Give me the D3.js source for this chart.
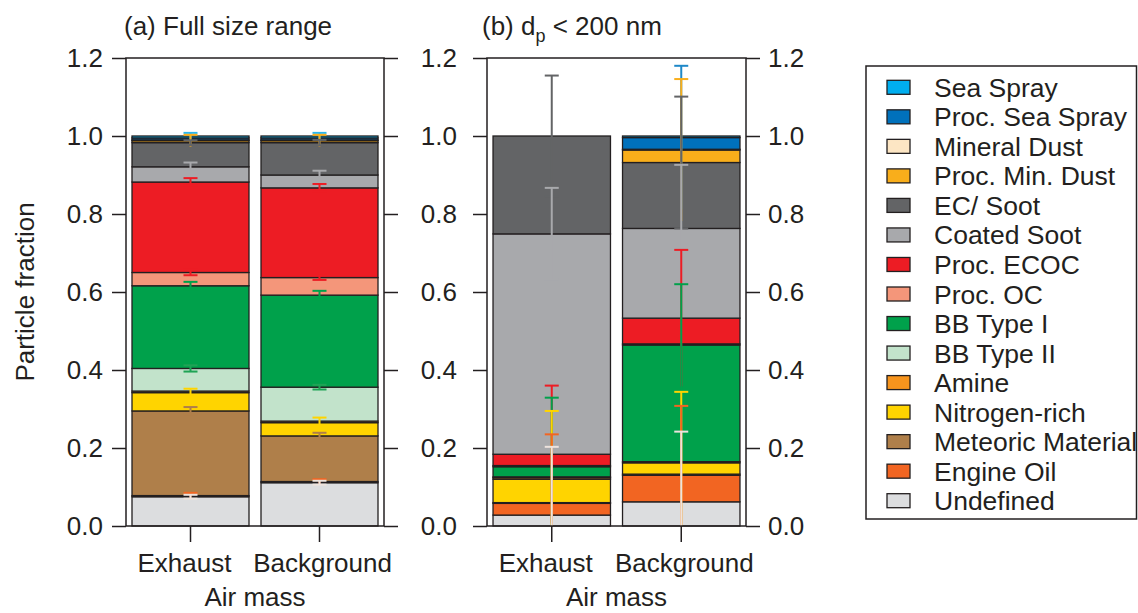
<!DOCTYPE html>
<html>
<head>
<meta charset="utf-8">
<script src="https://cdn.jsdelivr.net/npm/d3@7"></script>
<style>
  body { margin: 0; background: #fff; }
  text { font-family: "Liberation Sans", Arial, sans-serif; fill: #231f20; }
</style>
</head>
<body>
<div id="chart"></div>
<script>
const width = 1138;
const height = 613;

// stacking order, bottom to top
const species = ["Undefined", "Engine Oil", "Meteoric Material", "Nitrogen-rich", "Amine",
    "BB Type II", "BB Type I", "Proc. OC", "Proc. ECOC", "Coated Soot", "EC/ Soot",
    "Proc. Min. Dust", "Mineral Dust", "Proc. Sea Spray", "Sea Spray"];
const colors = ["#dcdddf", "#f26522", "#af7f4a", "#ffd400", "#f7941d",
    "#c2e3cb", "#00a14b", "#f4967a", "#ed1c24", "#a8a9ac", "#636466",
    "#f9ae1b", "#fde6c4", "#0071bc", "#00aeef"];
const errColors = ["#ede3dd", "#f26522", "#af7f4a", "#ffd400", "#f7941d",
    "#1fa355", "#00a14b", "#ed1c24", "#ed1c24", "#a8a9ac", "#636466",
    "#f9ae1b", "#fde6c4", "#1e88c8", "#29b6ef"];

const categories = ["Exhaust", "Background"];
const yTicks = [0, 0.2, 0.4, 0.6, 0.8, 1.0, 1.2];

// (a) full size range
const fullExhaust    = [0.075, 0.003, 0.217, 0.047, 0.004, 0.058, 0.212, 0.034, 0.232, 0.039, 0.062, 0.005, 0.002, 0.005, 0.005];
const fullBackground = [0.111, 0.003, 0.117, 0.034, 0.004, 0.087, 0.236, 0.045, 0.230, 0.033, 0.083, 0.005, 0.002, 0.005, 0.005];
const fullExhaustErr    = [0.005, 0.007, 0.010, 0.010, 0, 0.008, 0.010, 0.007, 0.010, 0.011, 0.006, 0.015, 0, 0, 0.008];
const fullBackgroundErr = [0.005, 0.006, 0.008, 0.013, 0, 0.006, 0.011, 0.006, 0.010, 0.011, 0.007, 0.015, 0, 0, 0.008];

// (b) dp < 200 nm
const fineExhaust    = [0.028, 0.030, 0.002, 0.060, 0.004, 0.002, 0.026, 0.003, 0.029, 0.565, 0.251, 0, 0, 0, 0];
const fineBackground = [0.062, 0.068, 0.003, 0.029, 0.003, 0, 0.299, 0.003, 0.066, 0.230, 0.169, 0.032, 0.002, 0.030, 0.004];
const fineExhaustErr    = [0.175, 0.177, 0, 0.175, 0, 0, 0.177, 0, 0.176, 0.118, 0.155, 0, 0, 0, 0];
const fineBackgroundErr = [0.180, 0.178, 0, 0.182, 0, 0, 0.156, 0, 0.175, 0.163, 0.169, 0.182, 0, 0.184, 0];

const panels = [
    {left: 126, right: 384, values: [fullExhaust, fullBackground], errs: [fullExhaustErr, fullBackgroundErr], rightLabels: false, labelPad: 9},
    {left: 487, right: 746, values: [fineExhaust, fineBackground], errs: [fineExhaustErr, fineBackgroundErr], rightLabels: true, labelPad: 16}
];

const plotTop = 58, plotBottom = 526;
const ink = "#231f20";
const fontSize = "26px";

const svg = d3.select("#chart").append("svg").attr("width", width).attr("height", height);

const y = d3.scaleLinear().domain([0, 1.2]).range([plotBottom, plotTop]);

panels.forEach(p => {
    const x = d3.scaleBand().domain(categories).range([p.left, p.right])
        .paddingInner(0.093).paddingOuter(0.0465);

    const rows = categories.map((c, ci) => {
        const row = {category: c};
        species.forEach((s, si) => row[s] = p.values[ci][si]);
        return row;
    });
    const series = d3.stack().keys(species)(rows);

    const g = svg.append("g");

    // bars
    series.forEach((s, si) => {
        g.selectAll(null)
            .data(s)
            .join("rect")
            .attr("x", d => x(d.data.category))
            .attr("width", x.bandwidth())
            .attr("y", d => y(d[1]))
            .attr("height", d => y(d[0]) - y(d[1]))
            .attr("fill", colors[si])
            .attr("stroke", ink)
            .attr("stroke-width", 1.3);
    });

    // error bars, top species first so lower ones lie over them
    categories.forEach((c, ci) => {
        const cx = x(c) + x.bandwidth() / 2;
        for (let si = species.length - 1; si >= 0; si--) {
            const e = p.errs[ci][si];
            if (!e) continue;
            const b = series[si][ci][0];
            const t = series[si][ci][1];
            const hi = Math.min(1.2, t + e);
            const lo = Math.max(0, t - e);
            const col = errColors[si];
            g.append("line")
                .attr("x1", cx).attr("x2", cx)
                .attr("y1", y(lo)).attr("y2", y(hi))
                .attr("stroke", col).attr("stroke-width", 2);
            g.append("line")
                .attr("x1", cx - 7).attr("x2", cx + 7)
                .attr("y1", y(hi)).attr("y2", y(hi))
                .attr("stroke", col).attr("stroke-width", 2);
            // lower cap only shows while it stays inside its own segment
            if (t - e >= b - 0.001) {
                g.append("line")
                    .attr("x1", cx - 7).attr("x2", cx + 7)
                    .attr("y1", y(lo)).attr("y2", y(lo))
                    .attr("stroke", col).attr("stroke-width", 2);
            }
        }
    });

    // frame
    g.append("rect")
        .attr("x", p.left).attr("y", plotTop)
        .attr("width", p.right - p.left).attr("height", plotBottom - plotTop)
        .attr("fill", "none").attr("stroke", ink).attr("stroke-width", 1.5);

    // axes
    const fmt = d3.format(".1f");
    const leftAxis = g.append("g")
        .attr("transform", `translate(${p.left},0)`)
        .call(d3.axisLeft(y).tickValues(yTicks).tickFormat(fmt).tickSize(14).tickSizeOuter(0).tickPadding(p.labelPad));
    const rightAxis = g.append("g")
        .attr("transform", `translate(${p.right},0)`)
        .call(d3.axisRight(y).tickValues(yTicks).tickFormat(p.rightLabels ? fmt : "").tickSize(14).tickSizeOuter(0).tickPadding(8));
    const xAxis = g.append("g")
        .attr("transform", `translate(0,${plotBottom})`)
        .call(d3.axisBottom(x).tickSize(16).tickSizeOuter(0));

    [leftAxis, rightAxis, xAxis].forEach(a => {
        a.select(".domain").remove();
        a.selectAll(".tick line").attr("stroke", ink).attr("stroke-width", 1.5);
        a.selectAll(".tick text").style("font-size", fontSize).attr("fill", ink)
            .style("font-family", "'Liberation Sans', Arial, sans-serif");
    });
    xAxis.selectAll(".tick text")
        .attr("y", 28).attr("dy", "0.71em")
        .attr("dx", d => d === "Exhaust" ? -6 : 3);

    g.append("text")
        .attr("x", (p.left + p.right) / 2)
        .attr("y", 606)
        .attr("text-anchor", "middle")
        .style("font-size", fontSize)
        .text("Air mass");
});

// panel titles
svg.append("text").attr("x", 124).attr("y", 35).style("font-size", fontSize).text("(a) Full size range");
const tb = svg.append("text").attr("x", 482).attr("y", 35).style("font-size", fontSize);
tb.append("tspan").text("(b) d");
tb.append("tspan").attr("dy", 7).style("font-size", "18px").text("p");
tb.append("tspan").attr("dy", -7).text(" < 200 nm");

// y title
svg.append("text")
    .attr("transform", "translate(34,292) rotate(-90)")
    .attr("text-anchor", "middle")
    .style("font-size", fontSize)
    .text("Particle fraction");

// legend
const legendOrder = species.slice().reverse();
const legendColors = colors.slice().reverse();
const lg = svg.append("g");
lg.append("rect")
    .attr("x", 866).attr("y", 66).attr("width", 270.5).attr("height", 453)
    .attr("fill", "none").attr("stroke", ink).attr("stroke-width", 1.5);

const ly = d3.scalePoint().domain(legendOrder).range([87.3, 500.7]);
lg.selectAll("rect.sw")
    .data(legendOrder)
    .join("rect")
    .attr("class", "sw")
    .attr("x", 887).attr("y", d => ly(d) - 7)
    .attr("width", 23).attr("height", 14)
    .attr("fill", (d, i) => legendColors[i])
    .attr("stroke", ink).attr("stroke-width", 1.3);
lg.selectAll("text.lt")
    .data(legendOrder)
    .join("text")
    .attr("class", "lt")
    .attr("x", 934).attr("y", d => ly(d))
    .attr("dy", "0.36em")
    .style("font-size", "26.5px")
    .text(d => d);
</script>
</body>
</html>
